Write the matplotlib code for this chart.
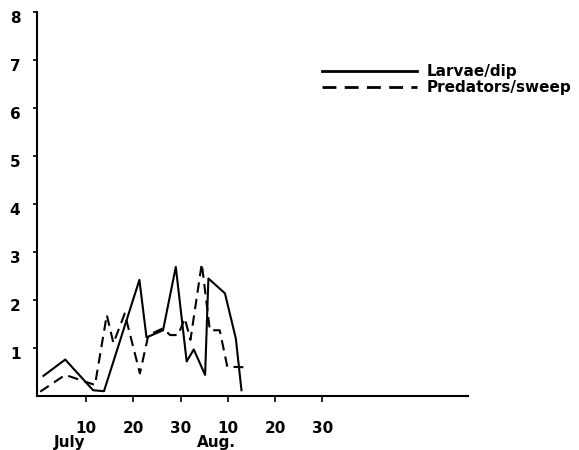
import numpy as np
import matplotlib
matplotlib.use("Agg")
import matplotlib.pyplot as plt
import matplotlib.transforms as mtransforms

# days counted from 1 July (Aug days continue as 31+...)
larvae_day = [1.0, 5.6, 11.5, 13.8, 21.3, 22.8, 26.3, 29.0, 31.3, 32.8, 35.2, 35.9, 39.4, 41.7, 42.9]
larvae_val = [0.42, 0.76, 0.12, 0.10, 2.42, 1.22, 1.37, 2.69, 0.72, 0.97, 0.44, 2.45, 2.14, 1.20, 0.12]

pred_day = [0.3, 5.6, 9.8, 11.9, 14.4, 15.8, 18.2, 21.4, 23.2, 26.3, 27.8, 29.5, 30.9, 32.1, 34.5, 35.9, 36.2, 38.3, 39.9, 43.3]
pred_val = [0.09, 0.44, 0.30, 0.23, 1.69, 1.10, 1.72, 0.47, 1.27, 1.41, 1.27, 1.27, 1.62, 1.17, 2.76, 1.62, 1.37, 1.37, 0.61, 0.60]

xticks = [10, 20, 30, 40, 50, 60]
xticklabels = ["10", "20", "30", "10", "20", "30"]
yticks = [1, 2, 3, 4, 5, 6, 7, 8]

fig = plt.figure(figsize=(5.79, 4.5), dpi=100)
ax = fig.add_axes([0.064, 0.12, 0.744, 0.853])

ax.plot(larvae_day, larvae_val, color="black", lw=1.5, label="Larvae/dip")
ax.plot(pred_day, pred_val, color="black", lw=1.5, ls=(0, (5, 3)), label="Predators/sweep")

ax.set_xlim(-0.36, 90.8)
ax.set_ylim(0, 8)
ax.spines["top"].set_visible(False)
ax.spines["right"].set_visible(False)
ax.spines["left"].set_linewidth(1.5)
ax.spines["bottom"].set_linewidth(1.5)

ax.set_yticks(yticks)
ax.set_yticklabels([str(v) for v in yticks], fontsize=11, fontweight="bold")
ax.set_xticks(xticks)
ax.set_xticklabels(xticklabels, fontsize=11, fontweight="bold")
ax.tick_params(axis="y", length=3, width=1.2, pad=9)
ax.tick_params(axis="x", length=4, width=1.2, pad=14)

# shift y tick labels slightly downward like the original
off = mtransforms.ScaledTranslation(0, -5 / 100, fig.dpi_scale_trans)
for lab in ax.get_yticklabels():
    lab.set_transform(lab.get_transform() + off)

fig.text(70 / 579, 1 - 443 / 450, "July", fontsize=11, fontweight="bold", ha="center", va="center")
fig.text(216 / 579, 1 - 443 / 450, "Aug.", fontsize=11, fontweight="bold", ha="center", va="center")

leg = ax.legend(loc="upper left", bbox_to_anchor=(0.648, 0.88), frameon=False,
                handlelength=6.2, handletextpad=0.6, labelspacing=0.05,
                prop={"size": 11, "weight": "bold"}, borderaxespad=0)
for h in leg.get_lines():
    h.set_linewidth(2)

fig.savefig("out.png", dpi=100)
